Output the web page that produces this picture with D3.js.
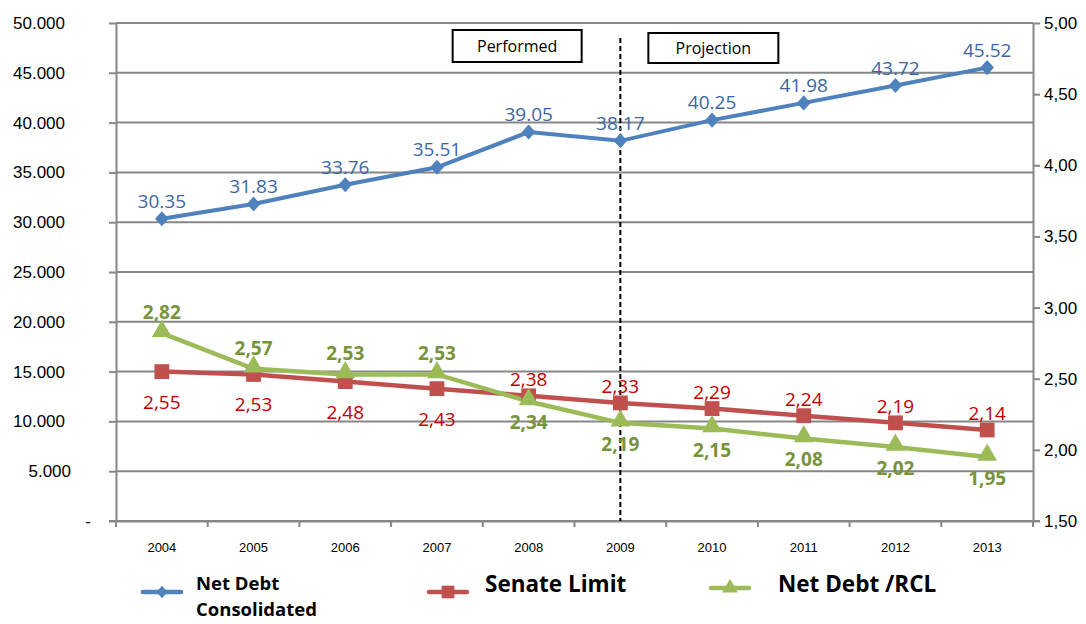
<!DOCTYPE html>
<html>
<head>
<meta charset="utf-8">
<script src="https://cdn.jsdelivr.net/npm/d3@7"></script>
<style>
  body { margin: 0; background: #fff; }
  svg { font-family: "Open Sans", sans-serif; }
  .grid line { stroke: #878787; stroke-width: 2; }
  .axis path, .axis line { stroke: #878787; stroke-width: 2; }
  .axis text { fill: #000; }
</style>
</head>
<body>
<div id="chart"></div>
<script>
// values
const years = [2004, 2005, 2006, 2007, 2008, 2009, 2010, 2011, 2012, 2013];
const netDebt = [30350, 31830, 33760, 35510, 39050, 38170, 40250, 41980, 43720, 45520];
const senateLimit = [2.55, 2.53, 2.48, 2.43, 2.38, 2.33, 2.29, 2.24, 2.19, 2.14];
const debtRcl = [2.82, 2.57, 2.53, 2.53, 2.34, 2.19, 2.15, 2.08, 2.02, 1.95];
const leftTicks = [0, 5000, 10000, 15000, 20000, 25000, 30000, 35000, 40000, 45000, 50000];
const rightTicks = [1.5, 2.0, 2.5, 3.0, 3.5, 4.0, 4.5, 5.0];
const splitYear = 2009;

const W = 1086, H = 624;
const margin = {top: 23, right: 53, bottom: 103, left: 116};
const width = W - margin.left - margin.right;
const height = H - margin.top - margin.bottom;

const ptBr = d3.formatLocale({decimal: ",", thousands: ".", grouping: [3], currency: ["", ""]});
const fmtLeft = d => d === 0 ? "-" : ptBr.format(",.0f")(d);
const fmtRight = ptBr.format(".2f");
const fmtComma = ptBr.format(".2f");
const fmtDebt = d => d3.format(".2f")(d / 1000);

const svg = d3.select("#chart").append("svg")
    .attr("width", W)
    .attr("height", H);
const g = svg.append("g")
    .attr("transform", "translate(" + margin.left + "," + margin.top + ")");

const x = d3.scaleBand().domain(years).range([0, width]);
const xc = d => x(d) + x.bandwidth() / 2;
const yL = d3.scaleLinear().domain([0, 50000]).range([height, 0]);
const yR = d3.scaleLinear().domain([1.5, 5]).range([height, 0]);

// gridlines on the left axis
g.append("g")
    .attr("class", "grid")
    .selectAll("line")
    .data(leftTicks)
    .enter().append("line")
    .attr("x1", 0).attr("x2", width)
    .attr("y1", d => yL(d)).attr("y2", d => yL(d));

// left axis
const axL = g.append("g")
    .attr("class", "axis")
    .call(d3.axisLeft(yL).tickValues(leftTicks).tickSize(7).tickSizeOuter(0).tickPadding(44).tickFormat(fmtLeft));
axL.selectAll("text").style("font-size", "17px")
    .attr("dx", d => d === 0 ? 26 : (d < 10000 ? 6 : 0));

// right axis
const axR = g.append("g")
    .attr("class", "axis")
    .attr("transform", "translate(" + width + ",0)")
    .call(d3.axisRight(yR).tickValues(rightTicks).tickSize(7).tickSizeOuter(0).tickPadding(4).tickFormat(fmtRight));
axR.selectAll("text").style("font-size", "17px");

// bottom axis, ticks between categories
const axB = g.append("g")
    .attr("class", "axis")
    .attr("transform", "translate(0," + height + ")")
    .call(d3.axisBottom(x).tickSize(0).tickPadding(22));
axB.selectAll("text").style("font-size", "13px");
axB.selectAll(".sep")
    .data(d3.range(years.length + 1))
    .enter().append("line")
    .attr("class", "sep")
    .attr("x1", i => i * x.step()).attr("x2", i => i * x.step())
    .attr("y1", -1).attr("y2", 6);
axB.append("line")
    .attr("x1", -7).attr("x2", width + 7)
    .attr("y1", 0).attr("y2", 0);

// split line + boxes
g.append("line")
    .attr("x1", xc(splitYear)).attr("x2", xc(splitYear))
    .attr("y1", 15).attr("y2", height)
    .attr("stroke", "#000")
    .attr("stroke-width", 2)
    .attr("stroke-dasharray", "5,3");

function box(label, x0, y0, w, h) {
    g.append("rect")
        .attr("x", x0).attr("y", y0)
        .attr("width", w).attr("height", h)
        .attr("fill", "#fff")
        .attr("stroke", "#000")
        .attr("stroke-width", 2);
    g.append("text")
        .attr("x", x0 + w / 2).attr("y", y0 + h / 2 + 6)
        .attr("text-anchor", "middle")
        .style("font-size", "16px")
        .text(label);
}
box("Performed", xc(2008) - 76, 7, 129, 32);
box("Projection", xc(2009) + 28, 10, 130, 30);

// series
const lineL = d3.line().x((d, i) => xc(years[i])).y(d => yL(d));
const lineR = d3.line().x((d, i) => xc(years[i])).y(d => yR(d));

const blue = "#4F81BD", red = "#C0504D", green = "#9BBB59";

g.append("path").attr("d", lineL(netDebt))
    .attr("fill", "none").attr("stroke", blue).attr("stroke-width", 4);
g.append("path").attr("d", lineR(senateLimit))
    .attr("fill", "none").attr("stroke", red).attr("stroke-width", 4.5);
g.append("path").attr("d", lineR(debtRcl))
    .attr("fill", "none").attr("stroke", green).attr("stroke-width", 4.5);

const diamond = d3.symbol().type(d3.symbolDiamond2).size(120);
const square = d3.symbol().type(d3.symbolSquare).size(220);
const triangle = d3.symbol().type(d3.symbolTriangle).size(170);

g.selectAll(".m-blue").data(netDebt).enter().append("path")
    .attr("transform", (d, i) => "translate(" + xc(years[i]) + "," + yL(d) + ") scale(1,1.1)")
    .attr("d", diamond).attr("fill", blue);
g.selectAll(".m-red").data(senateLimit).enter().append("path")
    .attr("transform", (d, i) => "translate(" + xc(years[i]) + "," + yR(d) + ")")
    .attr("d", square).attr("fill", red);
g.selectAll(".m-green").data(debtRcl).enter().append("path")
    .attr("transform", (d, i) => "translate(" + xc(years[i]) + "," + (yR(d) - 2) + ")")
    .attr("d", triangle).attr("fill", green);

// data labels
g.selectAll(".l-blue").data(netDebt).enter().append("text")
    .attr("x", (d, i) => xc(years[i]))
    .attr("y", d => yL(d) - 11)
    .attr("text-anchor", "middle")
    .attr("fill", "#3B67A5")
    .style("font-size", "19px")
    .text(fmtDebt);

// red label goes below while the green line is above it
g.selectAll(".l-red").data(senateLimit).enter().append("text")
    .attr("x", (d, i) => xc(years[i]))
    .attr("y", (d, i) => debtRcl[i] > d ? yR(d) + 37 : yR(d) - 10)
    .attr("text-anchor", "middle")
    .attr("fill", "#C00000")
    .style("font-size", "19px")
    .text(fmtComma);

g.selectAll(".l-green").data(debtRcl).enter().append("text")
    .attr("x", (d, i) => xc(years[i]))
    .attr("y", (d, i) => d > senateLimit[i] ? yR(d) - 14 : yR(d) + 28)
    .attr("text-anchor", "middle")
    .attr("fill", "#77933C")
    .style("font-size", "19px")
    .style("font-weight", "bold")
    .text(fmtComma);

// legend
const legend = svg.append("g");
function legendItem(x0, y0, color, sym, tf) {
    legend.append("line")
        .attr("x1", x0).attr("x2", x0 + 38)
        .attr("y1", y0).attr("y2", y0)
        .attr("stroke", color).attr("stroke-width", 4.5)
        .attr("stroke-linecap", "round");
    legend.append("path")
        .attr("transform", "translate(" + (x0 + 19) + "," + y0 + ")" + (tf || ""))
        .attr("d", sym).attr("fill", color);
}
legendItem(143, 592, blue, d3.symbol().type(d3.symbolDiamond2).size(80), " scale(1,1.1)");
legendItem(429, 592, red, d3.symbol().type(d3.symbolSquare).size(160));
legendItem(711, 588, green, d3.symbol().type(d3.symbolTriangle).size(110));

legend.append("text")
    .attr("x", 196).attr("y", 590)
    .style("font-size", "18.5px").style("font-weight", "bold")
    .text("Net Debt");
legend.append("text")
    .attr("x", 196).attr("y", 616)
    .style("font-size", "18.5px").style("font-weight", "bold")
    .text("Consolidated");
legend.append("text")
    .attr("x", 485).attr("y", 592)
    .style("font-size", "22.5px").style("font-weight", "bold")
    .text("Senate Limit");
legend.append("text")
    .attr("x", 778).attr("y", 592)
    .style("font-size", "22.5px").style("font-weight", "bold")
    .text("Net Debt /RCL");
</script>
</body>
</html>
